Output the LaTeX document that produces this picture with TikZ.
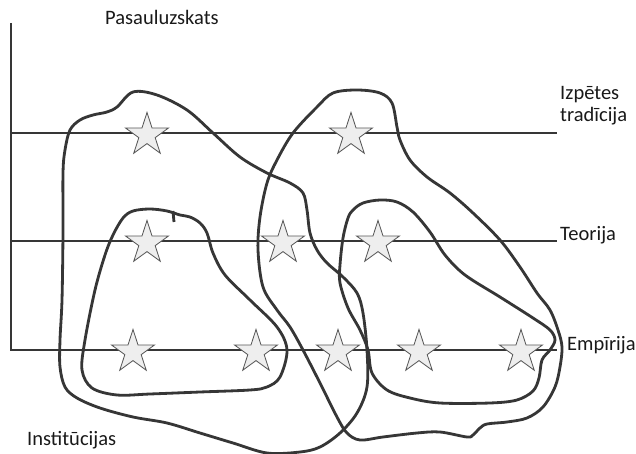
\documentclass[tikz,border=0pt]{standalone}
\usepackage{fontspec}
\setmainfont{Carlito}
\usetikzlibrary{shapes.geometric}
\definecolor{linegray}{HTML}{363636}
\definecolor{starfill}{HTML}{EEEEEE}
\definecolor{stargray}{HTML}{555555}

\begin{document}
\begin{tikzpicture}[x=0.03cm, y=-0.03cm,
    axisline/.style={line width=2.4pt, draw=linegray},
    blob/.style={line width=2.4pt, draw=linegray, line join=round},
    starnode/.style={star, star points=5, star point ratio=2.618, minimum size=1.35cm,
        inner sep=0pt, fill=starfill, draw=stargray, line width=0.7pt},
    lbl/.style={anchor=base west, inner sep=0pt, align=left,
        font=\fontsize{17.5}{19.6}\selectfont, text=black!90}]
        \useasboundingbox (0,0) rectangle (636,454);

        \coordinate (top) at (11,23);
        \coordinate (origin) at (11,350);
        \coordinate (tradL) at (11,133);
        \coordinate (tradR) at (557,133);
        \coordinate (teoL) at (11,241);
        \coordinate (teoR) at (557,241);
        \coordinate (empR) at (557,350);

        \draw[axisline] (top) -- (origin) -- (empR);
        \draw[axisline] (tradL) -- (tradR);
        \draw[axisline] (teoL) -- (teoR);

        \node[lbl] (pasaul) at (105,25) {Pasauluzskats};
        \node[lbl] (izpetes) at (560,122) {Izpētes\\tradīcija};
        \node[lbl] (teorija) at (560,241) {Teorija};
        \node[lbl] (empirija) at (567,350) {Empīrija};
        \node[lbl] (instit) at (27,445) {Institūcijas};

        \node[starnode] (s1) at (147,135) {};
        \node[starnode] (s2) at (351,135) {};
        \node[starnode] (s3) at (147,243) {};
        \node[starnode] (s4) at (283,243) {};
        \node[starnode] (s5) at (378,243) {};
        \node[starnode] (s6) at (133,352) {};
        \node[starnode] (s7) at (256,352) {};
        \node[starnode] (s8) at (338,352) {};
        \node[starnode] (s9) at (419,352) {};
        \node[starnode] (s10) at (521,352) {};

        % big left group
        \draw[blob] plot[smooth cycle, tension=0.55] coordinates {
            (133,92) (157,95) (187,110) (213,133) (240,157) (267,173) (290,183)
            (303,193) (307,210) (310,233) (317,250) (327,263) (343,277) (357,293)
            (363,313) (367,350) (367,387) (357,413) (340,433) (320,447) (300,452)
            (267,453) (233,443) (200,433) (167,423) (133,417) (100,408) (77,398)
            (65,387) (60,367) (60,340) (62,300) (63,233) (63,173) (65,150)
            (70,130) (80,120) (93,115) (107,112) (117,107)};
        % big right group
        \draw[blob] plot[smooth cycle, tension=0.55] coordinates {
            (357,90) (380,93) (392,103) (397,127) (400,140) (410,160) (427,177)
            (450,193) (473,213) (500,240) (520,267) (537,293) (550,310) (558,330)
            (562,347) (560,367) (555,387) (543,407) (527,418) (507,422) (487,424)
            (480,428) (473,435) (467,437) (440,432) (417,433) (383,437) (360,440)
            (347,433) (337,417) (320,383) (303,350) (290,327) (277,310) (263,287)
            (258,250) (260,217) (267,183) (277,160) (293,133) (317,107) (333,93)};
        % small left group
        \draw[blob] plot[smooth cycle, tension=0.55] coordinates {
            (133,211) (150,209) (167,211) (180,215) (190,217) (200,223) (207,233)
            (213,253) (225,275) (250,300) (277,327) (287,350) (280,377) (267,387)
            (250,390) (200,392) (150,394) (117,395) (92,388) (82,370) (85,340)
            (95,290) (105,255) (113,235) (123,218)};
        \draw[blob] (173,211) -- (174,222);
        % small right group
        \draw[blob] plot[smooth cycle, tension=0.55] coordinates {
            (363,203) (380,200) (397,202) (413,212) (430,232) (445,255) (465,275)
            (500,297) (533,318) (550,330) (555,340) (550,350) (542,360) (539,378)
            (533,391) (517,400) (490,403) (440,403) (410,398) (387,390) (372,373)
            (368,350) (360,330) (348,308) (340,283) (340,265) (343,238) (348,218)
            (353,210)};
    \end{tikzpicture}
\end{document}
